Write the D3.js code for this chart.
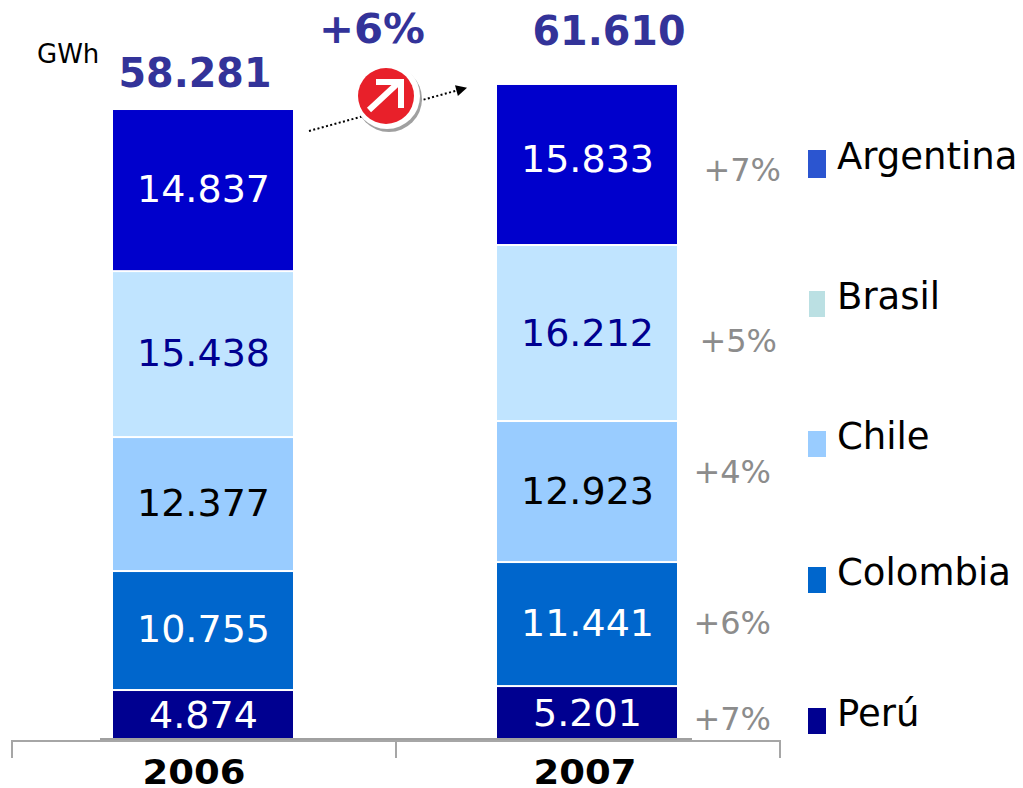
<!DOCTYPE html>
<html><head><meta charset="utf-8">
<script src="https://cdn.jsdelivr.net/npm/d3@7"></script>
<style>html,body{margin:0;padding:0;background:#fff}svg{display:block}text{font-family:"DejaVu Sans",sans-serif}</style>
</head><body><svg id="c" width="1023" height="788"></svg>
<script>
const years = ["2006", "2007"];
const totals = ["58.281", "61.610"];
const countries = ["Perú", "Colombia", "Chile", "Brasil", "Argentina"];
// printed values
const peru = [4874, 5201];
const colombia = [10755, 11441];
const chile = [12377, 12923];
const brasil = [15438, 16212];
const argentina = [14837, 15833];
// segment heights as drawn in the picture (the bars are not quite to scale)
const peruDrawn = [4390, 4760];
const colombiaDrawn = [11120, 11590];
const chileDrawn = [12520, 13180];
const brasilDrawn = [15510, 16450];
const argentinaDrawn = [15150, 15050];
const growth = ["+7%", "+6%", "+4%", "+5%", "+7%"];
const totalGrowth = "+6%";
const unit = "GWh";
const barColors = ["#000090", "#0066CC", "#99CCFF", "#C0E4FF", "#0000CC"];
const legendColors = ["#000090", "#0066CC", "#99CCFF", "#BBE0E3", "#2B55D0"];
const labelColors = ["#fff", "#fff", "#000", "#000090", "#fff"];

const printed = [peru, colombia, chile, brasil, argentina];
const drawn = [peruDrawn, colombiaDrawn, chileDrawn, brasilDrawn, argentinaDrawn];
const fmt = v => d3.format(",")(v).replace(",", ".");

const svg = d3.select("#c");
const x = d3.scaleBand().domain(years).range([11, 779]);
const y = d3.scaleLinear().domain([0, 65000]).range([738, 42.5]);
const barW = 180;
const cx = d => x(d) + x.bandwidth() / 2;
const labelDy = [[13, 13], [10, 11], [11, 11], [11, 12], [11, 7]];
const totalX = [195, 609], totalY = [87, 45];
const yearX = [194, 585];

years.forEach((yr, i) => {
  let acc = 0;
  drawn.forEach((s, k) => {
    const y0 = y(acc), y1 = y(acc + s[i]);
    acc += s[i];
    svg.append("rect").attr("x", cx(yr) - barW / 2).attr("width", barW)
      .attr("y", y1).attr("height", y0 - y1 - (k ? 2 : 0)).attr("fill", barColors[k]);
    svg.append("text").attr("x", cx(yr) + 0.5).attr("y", (y0 + y1) / 2 + labelDy[k][i])
      .attr("text-anchor", "middle").attr("font-size", 38).attr("fill", labelColors[k])
      .text(fmt(printed[k][i]));
  });
  svg.append("text").attr("x", totalX[i]).attr("y", totalY[i])
    .attr("text-anchor", "middle").attr("font-size", 41).attr("font-weight", "bold")
    .attr("fill", "#333399").attr("textLength", 153).attr("lengthAdjust", "spacingAndGlyphs").text(totals[i]);
  svg.append("text").attr("x", yearX[i]).attr("y", 784)
    .attr("text-anchor", "middle").attr("font-size", 34).attr("font-weight", "bold")
    .attr("textLength", 103).attr("lengthAdjust", "spacingAndGlyphs").text(yr);
});

// axis
svg.append("rect").attr("x", 100).attr("y", 738).attr("width", 592).attr("height", 4).attr("fill", "#a0a0a0");
svg.append("path").attr("fill", "none").attr("stroke", "#a6a6a6").attr("stroke-width", 2)
  .attr("d", d3.line()([[12, 758], [12, 741], [780, 741], [780, 758]]));
svg.append("line").attr("x1", 396).attr("x2", 396).attr("y1", 741).attr("y2", 758)
  .attr("stroke", "#a6a6a6").attr("stroke-width", 2);

svg.append("text").attr("x", 37).attr("y", 63).attr("font-size", 26).text(unit);
svg.append("text").attr("x", 372).attr("y", 43).attr("text-anchor", "middle")
  .attr("font-size", 41).attr("font-weight", "bold").attr("fill", "#333399")
  .attr("textLength", 106).attr("lengthAdjust", "spacingAndGlyphs").text(totalGrowth);

// growth arrow
const defs = svg.append("defs");
defs.append("marker").attr("id", "ah").attr("viewBox", "0 0 10 10").attr("refX", 9).attr("refY", 5)
  .attr("markerWidth", 12).attr("markerHeight", 11).attr("orient", "auto").attr("markerUnits", "userSpaceOnUse")
  .append("path").attr("d", "M0,0L10,5L0,10Z").attr("fill", "#000");
svg.append("line").attr("x1", 309).attr("y1", 131).attr("x2", 466).attr("y2", 88)
  .attr("stroke", "#000").attr("stroke-width", 2).attr("stroke-dasharray", "2 2.4").attr("marker-end", "url(#ah)");
svg.append("circle").attr("cx", 389).attr("cy", 99).attr("r", 33).attr("fill", "#a0a0a0");
svg.append("circle").attr("cx", 387).attr("cy", 96).attr("r", 33).attr("fill", "#fff");
svg.append("circle").attr("cx", 386).attr("cy", 96).attr("r", 28).attr("fill", "#E8202A");
svg.append("path").attr("d", "M369,110L397,84M376,82L401,82L401,108").attr("fill", "none")
  .attr("stroke", "#fff").attr("stroke-width", 6);

// growth labels
const growthX = [771, 771, 771, 777, 781];
const growthY = [730, 634, 483, 352, 181];
growth.forEach((g, k) => svg.append("text").attr("x", growthX[k]).attr("y", growthY[k])
  .attr("text-anchor", "end").attr("font-size", 32).attr("fill", "#8c8c8c").text(g));

// legend
const legY = [708, 567, 431, 291, 150];
const legH = [26, 26, 26, 26, 28];
const legT = [726, 585, 449, 309, 169];
countries.forEach((c, k) => {
  svg.append("rect").attr("x", k === 3 ? 809 : 808).attr("y", legY[k]).attr("width", k === 3 ? 16 : 18).attr("height", legH[k]).attr("fill", legendColors[k]);
  svg.append("text").attr("x", 837).attr("y", legT[k]).attr("font-size", 37).text(c);
});
</script></body></html>
